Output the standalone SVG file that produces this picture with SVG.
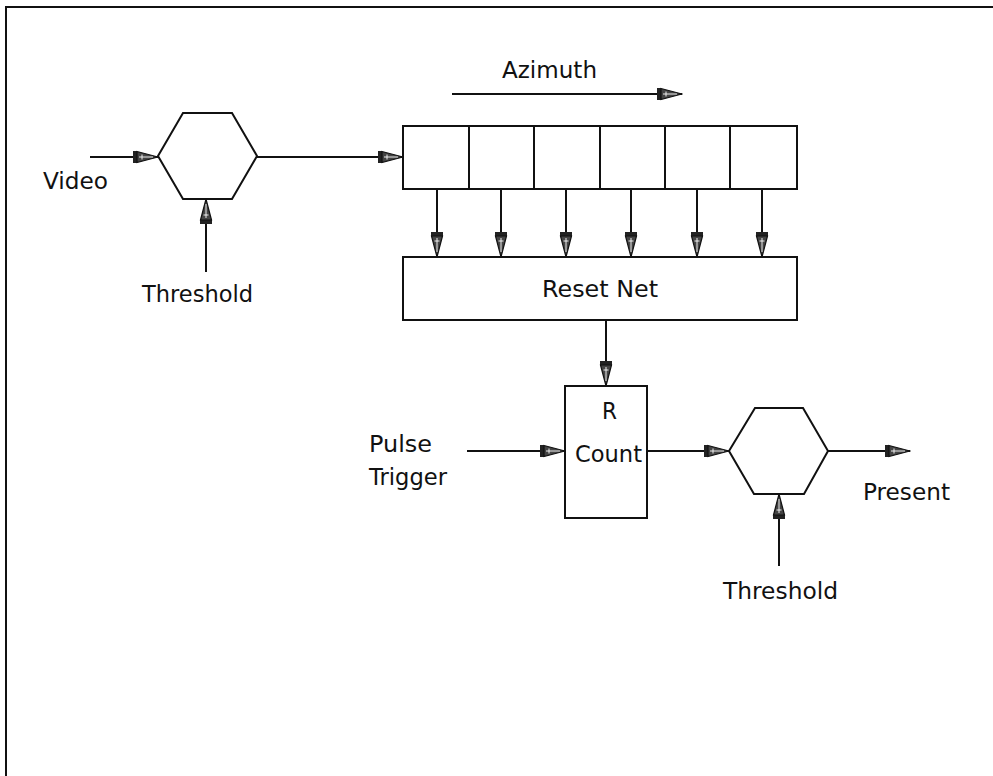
<svg xmlns="http://www.w3.org/2000/svg" width="993" height="776" viewBox="0 0 993 776">
<style>
.ln{stroke:#111;stroke-width:2;fill:none}
.bx{stroke:#111;stroke-width:2;fill:#fff}
.tx{font-family:"DejaVu Sans","Liberation Sans",sans-serif;font-size:23px;fill:#111}
</style>
<defs>
<marker id="ah" markerUnits="userSpaceOnUse" markerWidth="26" markerHeight="14" viewBox="0 -7 26 14" refX="25" refY="0" orient="auto">
<path d="M0,-6 H4 V6 H0 Z" fill="#222"/>
<path d="M4,-5.5 L25,0 L4,5.5 Z" fill="#444" stroke="#111" stroke-width="1.2"/>
<path d="M6,0 H20 M9,-2.5 V2.5" stroke="#fff" stroke-width="0.9"/>
</marker>
</defs>
<rect width="993" height="776" fill="#fff"/>
<path class="ln" d="M6,776 V7 H993"/>
<g id="hex1"><polygon class="bx" points="158,156 183,113 232,113 257,156 232,199 183,199"/></g>
<g id="register">
<rect class="bx" x="403" y="126" width="394" height="63"/>
<path class="ln" d="M469,126 V189 M534,126 V189 M600,126 V189 M665,126 V189 M730,126 V189"/>
</g>
<g id="resetnet"><rect class="bx" x="403" y="257" width="394" height="63"/>
<text class="tx" x="542" y="297" textLength="116" lengthAdjust="spacingAndGlyphs">Reset Net</text></g>
<g id="count"><rect class="bx" x="565" y="386" width="82" height="132"/>
<text class="tx" x="602" y="419" textLength="15" lengthAdjust="spacingAndGlyphs">R</text>
<text class="tx" x="575" y="462" textLength="67" lengthAdjust="spacingAndGlyphs">Count</text></g>
<g id="hex2"><polygon class="bx" points="729,451 755,408 803,408 828,451 804,494 754,494"/></g>
<g id="labels">
<text class="tx" x="502" y="78" textLength="95" lengthAdjust="spacingAndGlyphs">Azimuth</text>
<text class="tx" x="43" y="189" textLength="65" lengthAdjust="spacingAndGlyphs">Video</text>
<text class="tx" x="142" y="302" textLength="111" lengthAdjust="spacingAndGlyphs">Threshold</text>
<text class="tx" x="369" y="452" textLength="63" lengthAdjust="spacingAndGlyphs">Pulse</text>
<text class="tx" x="369" y="485" textLength="78" lengthAdjust="spacingAndGlyphs">Trigger</text>
<text class="tx" x="863" y="500" textLength="87" lengthAdjust="spacingAndGlyphs">Present</text>
<text class="tx" x="723" y="599" textLength="115" lengthAdjust="spacingAndGlyphs">Threshold</text>
</g>
<g id="connectors" class="ln" marker-end="url(#ah)">
<path d="M90,157 H158"/>
<path d="M257,157 H403"/>
<path d="M206,272 V199"/>
<path d="M452,94 H682"/>
<path d="M437,189 V257"/>
<path d="M501,189 V257"/>
<path d="M566,189 V257"/>
<path d="M631,189 V257"/>
<path d="M697,189 V257"/>
<path d="M762,189 V257"/>
<path d="M606,320 V386"/>
<path d="M467,451 H565"/>
<path d="M647,451 H729"/>
<path d="M779,566 V494"/>
<path d="M828,451 H910"/>
</g>
</svg>
